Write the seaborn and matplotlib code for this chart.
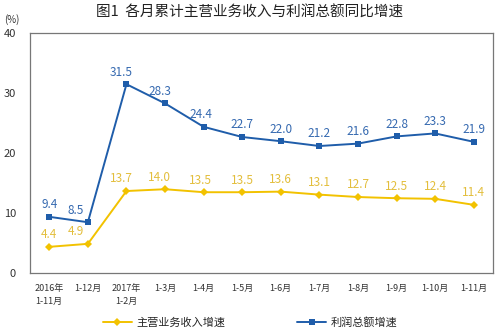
import matplotlib
matplotlib.use("Agg")
import matplotlib.pyplot as plt
import seaborn as sns
import pandas as pd
from matplotlib.lines import Line2D

periods = ["2016年\n1-11月", "1-12月", "2017年\n1-2月", "1-3月", "1-4月", "1-5月",
           "1-6月", "1-7月", "1-8月", "1-9月", "1-10月", "1-11月"]
revenue_growth = [4.4, 4.9, 13.7, 14.0, 13.5, 13.5, 13.6, 13.1, 12.7, 12.5, 12.4, 11.4]
profit_growth = [9.4, 8.5, 31.5, 28.3, 24.4, 22.7, 22.0, 21.2, 21.6, 22.8, 23.3, 21.9]
series_names = ["主营业务收入增速", "利润总额增速"]
y_ticks = [0, 10, 20, 30, 40]

sns.set_theme(style="white")
plt.rcParams["font.family"] = ["Noto Sans CJK SC", "DejaVu Sans"]

yellow = "#F2C200"
yellow_text = "#E3BE3C"
blue = "#1F5DAA"
blue_text = "#3569B0"

idx = list(range(len(periods)))
df = pd.DataFrame({
    "idx": idx * 2,
    "value": revenue_growth + profit_growth,
    "series": [series_names[0]] * len(idx) + [series_names[1]] * len(idx),
})

fig = plt.figure(figsize=(5.0, 3.32), dpi=100)
ax = fig.add_axes([0.06, 0.177, 0.926, 0.723])

sns.lineplot(data=df, x="idx", y="value", hue="series", style="series",
             palette={series_names[0]: yellow, series_names[1]: blue},
             markers={series_names[0]: "D", series_names[1]: "s"},
             dashes=False, markersize=4, markeredgewidth=0, linewidth=1.4,
             ax=ax, legend=False)

# horizontal nudges (points) so labels clear the steep segments
nudge = [0, -9, -4, -4, -2, 0, 0, 0, 0, 0, 0, 0]
for i, v in enumerate(revenue_growth):
    ax.annotate(f"{v:.1f}", (i, v), xytext=(nudge[i], 4), textcoords="offset points",
                ha="center", va="bottom", fontsize=8.5, color=yellow_text)
for i, v in enumerate(profit_growth):
    ax.annotate(f"{v:.1f}", (i, v), xytext=(nudge[i], 4), textcoords="offset points",
                ha="center", va="bottom", fontsize=8.5, color=blue_text)

ax.set_xlim(-0.5, len(periods) - 0.5)
ax.set_ylim(0, 40)
ax.set_yticks(y_ticks)
ax.set_yticklabels([str(t) for t in y_ticks], fontsize=8, color="#333333")
ax.set_xticks(idx)
ax.set_xticklabels(periods, fontsize=6.5, color="#333333", linespacing=1.5, va="top")
ax.set_xticks([i + 0.5 for i in idx[:-1]], minor=True)
ax.tick_params(axis="x", which="major", length=0, pad=8)
ax.tick_params(axis="x", which="minor", length=3, direction="in", color="#666666", width=0.8)
ax.tick_params(axis="y", which="major", length=3, direction="in", color="#666666", width=0.8, pad=10)
ax.set_xlabel("")
ax.set_ylabel("")
for s in ax.spines.values():
    s.set_color("#777777")
    s.set_linewidth(0.9)

fig.text(0.5, 0.962, "图1  各月累计主营业务收入与利润总额同比增速", ha="center", va="center",
         fontsize=10.5, color="#222222")
fig.text(0.008, 0.94, "(%)", ha="left", va="center", fontsize=7, color="#333333")

handles = [Line2D([], [], color=yellow, marker="D", markersize=4, markeredgewidth=0, linewidth=1.4),
           Line2D([], [], color=blue, marker="s", markersize=4, markeredgewidth=0, linewidth=1.4)]
fig.legend(handles, series_names, loc="center", bbox_to_anchor=(0.5, 0.03), ncol=2,
           frameon=False, fontsize=8, columnspacing=6.5, handlelength=2.6, handletextpad=0.4)

fig.savefig("out.png", dpi=100)
